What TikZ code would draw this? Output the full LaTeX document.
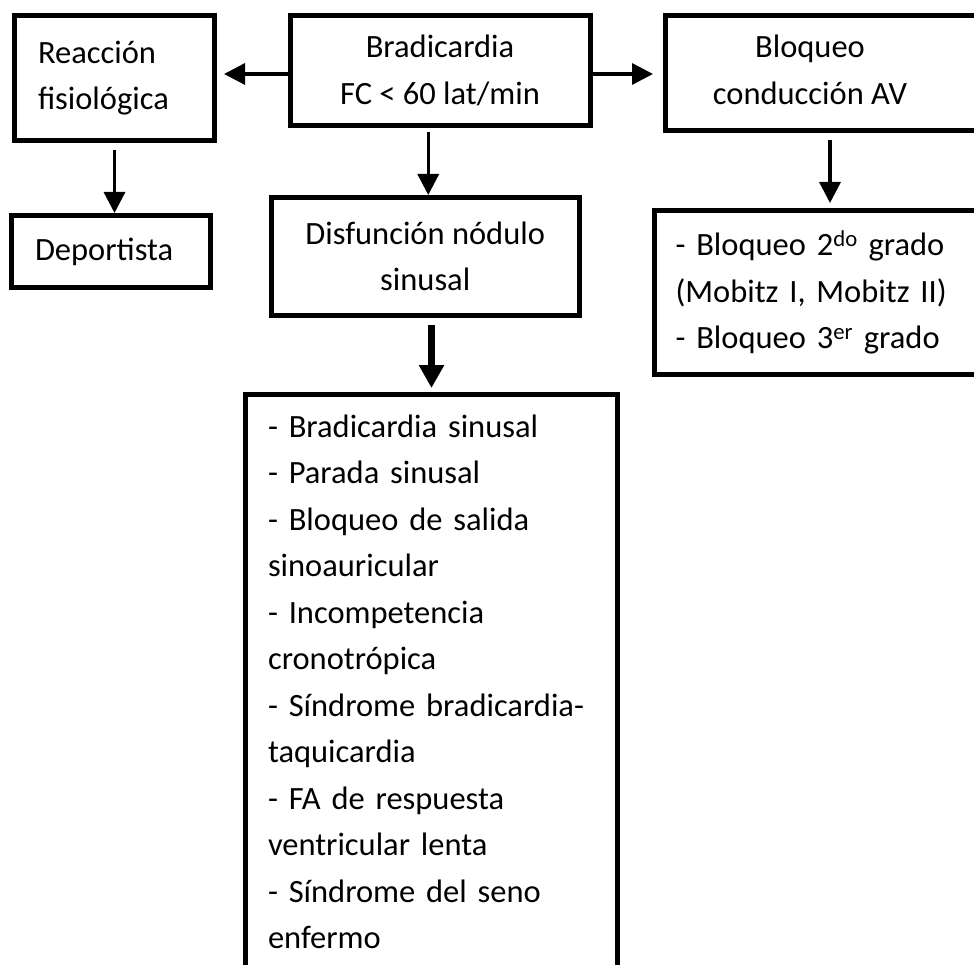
\documentclass[tikz,border=0pt]{standalone}
\usepackage{fontspec}
\setmainfont{Carlito}
\usetikzlibrary{arrows.meta,positioning,calc}

\begin{document}
\begin{tikzpicture}[x=1pt, y=-1pt,
  font=\fontsize{32.5pt}{46.5pt}\selectfont, >={Triangle[length=21pt, width=21pt]},
  box/.style={draw=black, line width=5pt, inner sep=0pt},
  lst/.style={box, align=left},
  pw/.style={->, line width=3.3pt},
  pwbig/.style={-{Triangle[length=23pt, width=24pt]}, line width=7pt}]
\useasboundingbox (0,0) rectangle (974,965);
\clip (0,0) rectangle (974,965);
% top row
\node[box, minimum width=200pt, minimum height=125pt, align=left, text width=153pt] (reac) at (114.5,78) {Reacción\\fisiológica};
\node[box, minimum width=300pt, minimum height=110pt, align=center] (brad) at (440,70.5) {Bradicardia\\FC < 60 lat/min};
\node[box, minimum width=329pt, minimum height=115pt] (bloq) at (830,73) {};
\node[align=center] (bloqtxt) at (810,70) {Bloqueo\\conducción AV};
% second row
\node[box, minimum width=199pt, minimum height=72pt, align=left, text width=152pt] (dep) at (111,251.5) {Deportista};
\node[box, minimum width=308.5pt, minimum height=118pt, align=center] (disf) at (425.25,256.5) {Disfunción nódulo\\sinusal};
\node[lst, minimum width=351pt, minimum height=164pt, inner xsep=21pt, text width=309pt] (avlst) at (830,292.5)
  {- Bloqueo 2\textsuperscript{do} grado\\(Mobitz I, Mobitz II)\\- Bloqueo 3\textsuperscript{er} grado};
% sinus node list
\node[lst, anchor=north west, inner xsep=22.5pt, inner ysep=19.5pt, text width=327pt, text height=23pt, text depth=600pt] (snlst) at (243,392)
  {- Bradicardia sinusal\\- Parada sinusal\\- Bloqueo de salida\\sinoauricular\\- Incompetencia\\cronotrópica\\- Síndrome bradicardia-\\taquicardia\\- FA de respuesta\\ventricular lenta\\- Síndrome del seno\\enfermo};
% arrows
\draw[pw, shorten >=7pt] ([yshift=-3.5pt]brad.west) -- ([yshift=-3.5pt]brad.west -| reac.east);
\draw[pw, shorten >=10pt] ([yshift=-3.5pt]brad.east) -- ([yshift=-3.5pt]brad.east -| bloq.west);
\draw[pw, shorten <=7pt] (reac.south) -- (reac.south |- dep.north);
\draw[pw, shorten <=4pt] ([xshift=3pt]brad.south -| disf.north) -- ([xshift=3pt]disf.north);
\draw[pw, shorten <=7pt, shorten >=5pt] (bloq) -- (avlst);
\draw[pwbig, shorten <=7pt, shorten >=4pt] (disf.south -| snlst.north) -- (snlst.north);
\end{tikzpicture}
\end{document}
